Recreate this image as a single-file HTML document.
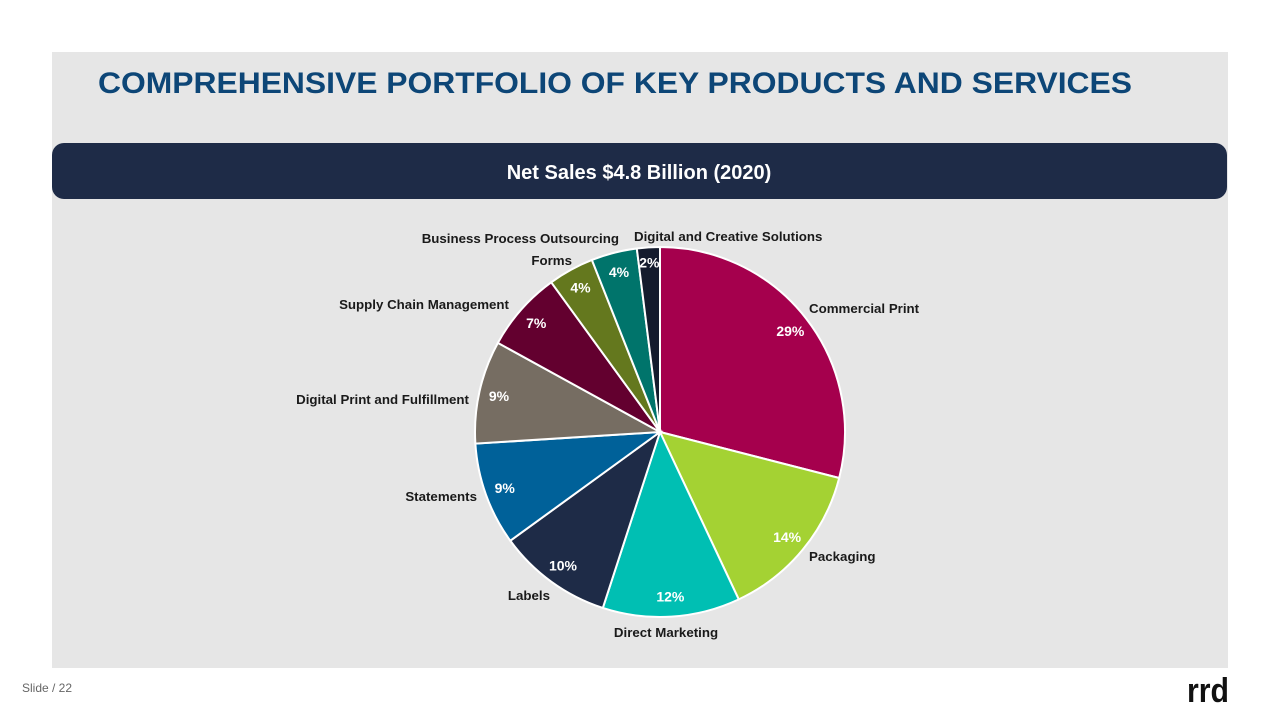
<!DOCTYPE html>
<html><head><meta charset="utf-8"><style>
html,body{margin:0;padding:0;background:#fff;width:1280px;height:720px;overflow:hidden;font-family:"Liberation Sans",Arial,sans-serif}
</style></head><body>
<svg id="slide" width="1280" height="720" viewBox="0 0 1280 720" xmlns="http://www.w3.org/2000/svg" font-family="Liberation Sans, Arial, sans-serif">
  <rect x="52" y="52" width="1176" height="616" fill="#E6E6E6"/>
  <text x="98" y="93" font-size="30" font-weight="bold" fill="#0D4677" textLength="1034" lengthAdjust="spacingAndGlyphs">COMPREHENSIVE PORTFOLIO OF KEY PRODUCTS AND SERVICES</text>
  <rect x="52" y="143" width="1175" height="56" rx="12" fill="#1E2B47"/>
  <text x="639" y="179" font-size="20" font-weight="bold" fill="#fff" text-anchor="middle">Net Sales $4.8 Billion (2020)</text>
  <g id="pie"></g>
  <g font-size="13.3" font-weight="bold" fill="#1a1a1a">
    <text x="809" y="313">Commercial Print</text>
    <text x="809" y="561">Packaging</text>
    <text x="666" y="637" text-anchor="middle">Direct Marketing</text>
    <text x="550" y="600" text-anchor="end">Labels</text>
    <text x="477" y="501" text-anchor="end">Statements</text>
    <text x="469" y="404" text-anchor="end">Digital Print and Fulfillment</text>
    <text x="509" y="309" text-anchor="end">Supply Chain Management</text>
    <text x="572" y="265" text-anchor="end">Forms</text>
    <text x="619" y="243" text-anchor="end">Business Process Outsourcing</text>
    <text x="634" y="241">Digital and Creative Solutions</text>
  </g>
  <text x="22" y="692" font-size="12" fill="#666">Slide / 22</text>
  <text x="1187" y="702" font-size="34" font-weight="bold" fill="#111" textLength="42" lengthAdjust="spacingAndGlyphs">rrd</text>
</svg>
<script>
const categories = ["Commercial Print","Packaging","Direct Marketing","Labels","Statements","Digital Print and Fulfillment","Supply Chain Management","Forms","Business Process Outsourcing","Digital and Creative Solutions"];
const values = [29,14,12,10,9,9,7,4,4,2];
const colors = ["#A5004D","#A4D233","#00BFB3","#1E2B47","#006199","#766D62","#63002F","#64781E","#00746B","#141B2D"];

const NS = "http://www.w3.org/2000/svg";
const g = document.getElementById("pie");
const cx = 660, cy = 432, R = 185, LR = 165;
const total = values.reduce((a,b)=>a+b,0);
function pt(a, r){ return [cx + r*Math.sin(a), cy - r*Math.cos(a)]; }
let acc = 0;
values.forEach((v,i)=>{
  const a0 = acc/total*2*Math.PI; acc += v;
  const a1 = acc/total*2*Math.PI;
  const p0 = pt(a0,R), p1 = pt(a1,R);
  const large = (a1-a0) > Math.PI ? 1 : 0;
  const path = document.createElementNS(NS,"path");
  path.setAttribute("d",`M${cx},${cy} L${p0[0]},${p0[1]} A${R},${R} 0 ${large} 1 ${p1[0]},${p1[1]} Z`);
  path.setAttribute("fill",colors[i]);
  path.setAttribute("stroke","#fff");
  path.setAttribute("stroke-width","2");
  
  
  g.appendChild(path);
  const am = (a0+a1)/2;
  const lp = pt(am, v < 3 ? 170 : LR);
  const t = document.createElementNS(NS,"text");
  t.setAttribute("x",lp[0]); t.setAttribute("y",lp[1]+5);
  t.setAttribute("text-anchor","middle");
  t.setAttribute("font-size","14"); t.setAttribute("font-weight","bold");
  t.setAttribute("fill","#fff");
  t.textContent = v + "%";
  
  
  g.appendChild(t);
});
</script>
</body></html>
